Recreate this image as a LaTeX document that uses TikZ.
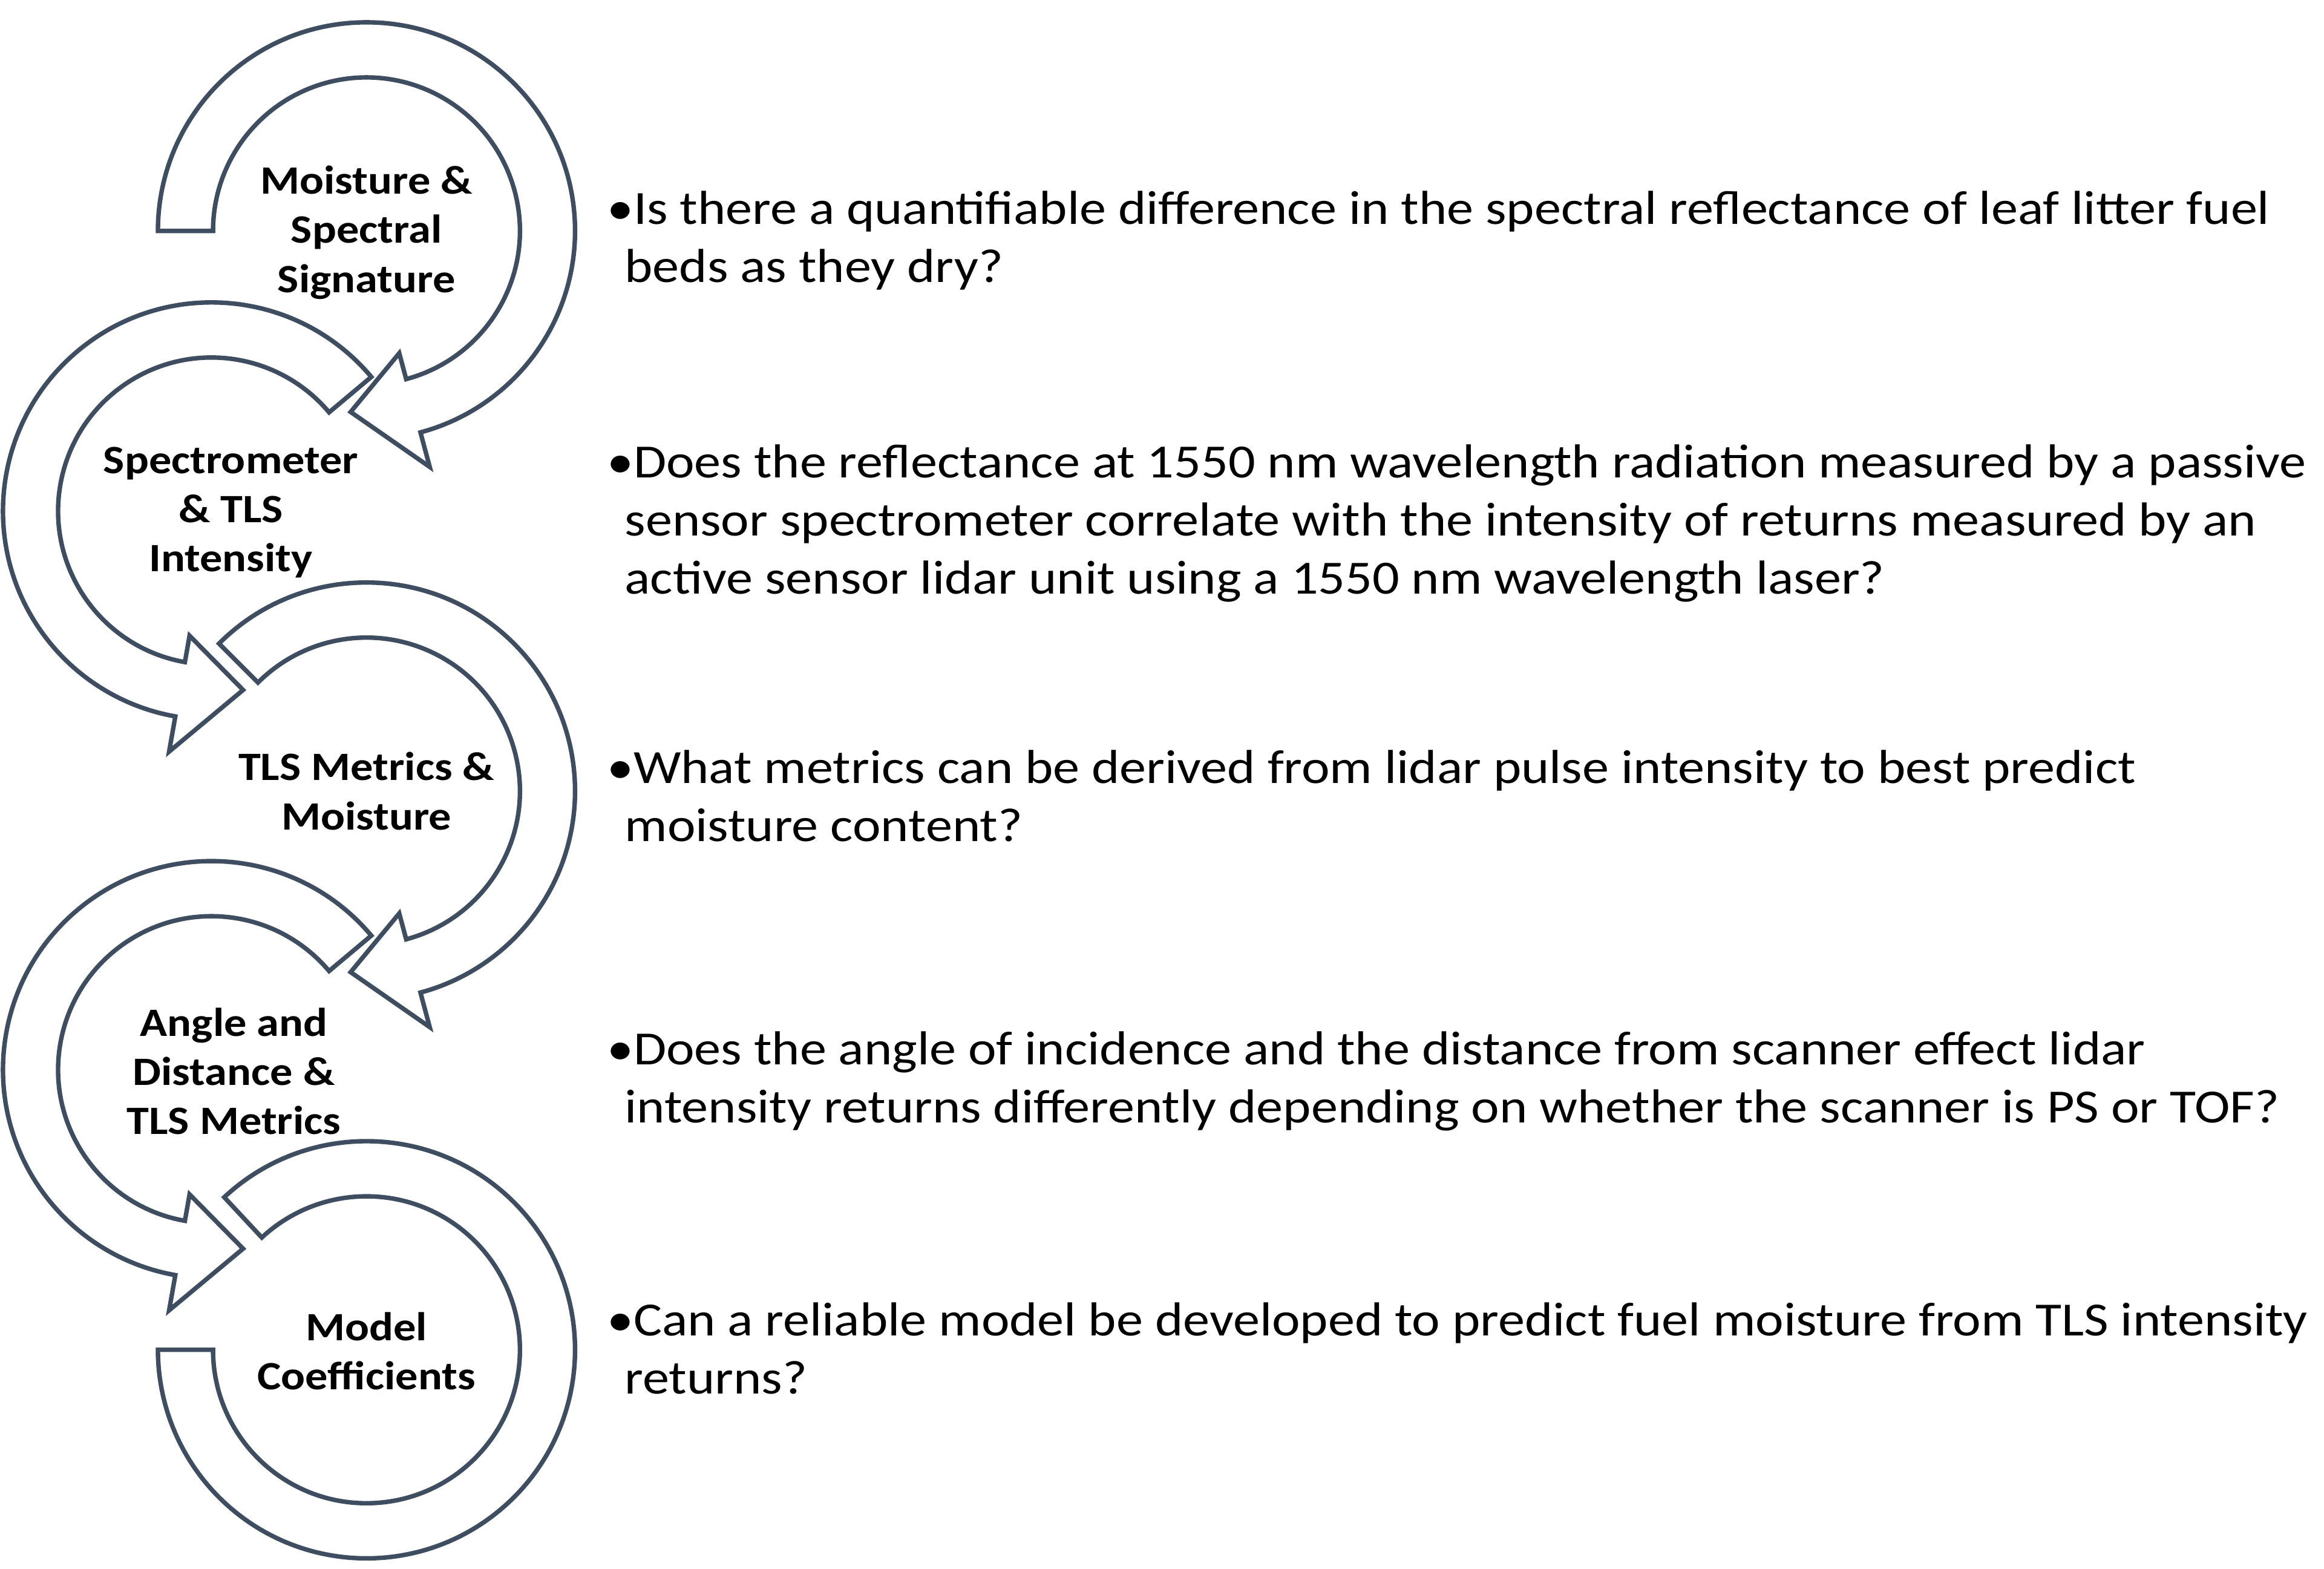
\documentclass[tikz,border=0pt]{standalone}
\usepackage{fontspec}
\setmainfont{Carlito}[FakeStretch=1.12]
\definecolor{ring}{HTML}{3F4D60}
\newcommand\ringarrow[6]{% name, cx, cy, a0, a1, tip
  \begin{scope}[shift={(#2,#3)}]
    \draw[ringst] (#4:140) arc[start angle=#4,end angle=#5,radius=140] -- (#5:164) -- (#6:122) -- (#5:85) -- (#5:103)
      arc[start angle=#5,end angle=#4,radius=103] -- cycle;
    \coordinate (#1) at (0,0);
  \end{scope}}
\begin{document}
\begin{tikzpicture}[x=0.5pt,y=0.5pt,
  ringst/.style={draw=ring,line width=1.5pt,fill=white,line join=miter},
  lab/.style={font=\fontsize{13.5}{16.5}\selectfont\bfseries,align=center,inner sep=0pt},
  q/.style={font=\fontsize{16}{19.5}\selectfont,align=left,anchor=north west,inner sep=0pt}]
\useasboundingbox (0,0) rectangle (1560,1053);
\ringarrow{c1}{246}{898}{180}{-75}{-95}
\ringarrow{c2}{142}{710}{40}{260}{280}
\ringarrow{c3}{246}{522}{135}{-75}{-95}
\ringarrow{c4}{142}{335}{40}{260}{280}
\begin{scope}[shift={(246,147)}]
  \draw[ringst] (133:140) arc[start angle=133,end angle=-180,radius=140] -- (-180:103)
    arc[start angle=-180,end angle=133,radius=103] -- cycle;
  \coordinate (c5) at (0,0);
\end{scope}
\node[lab] (l1) at (246,897) {Moisture \&\\Spectral\\Signature};
\node[lab] (l2) at (155,709) {Spectrometer\\\& TLS\\Intensity};
\node[lab] (l3) at (246,522) {TLS Metrics \&\\Moisture};
\node[lab] (l4) at (157,334) {Angle and\\Distance \&\\TLS Metrics};
\node[lab] (l5) at (246,146) {Model\\Coefficients};
\node[q] (q1) at (407,925) {•Is there a quantifiable difference in the spectral reflectance of leaf litter fuel\\\hspace*{6pt}beds as they dry?};
\node[q] (q2) at (407,755) {•Does the reflectance at 1550 nm wavelength radiation measured by a passive\\\hspace*{6pt}sensor spectrometer correlate with the intensity of returns measured by an\\\hspace*{6pt}active sensor lidar unit using a 1550 nm wavelength laser?};
\node[q] (q3) at (407,550) {•What metrics can be derived from lidar pulse intensity to best predict\\\hspace*{6pt}moisture content?};
\node[q] (q4) at (407,361) {•Does the angle of incidence and the distance from scanner effect lidar\\\hspace*{6pt}intensity returns differently depending on whether the scanner is PS or TOF?};
\node[q] (q5) at (407,179) {•Can a reliable model be developed to predict fuel moisture from TLS intensity\\\hspace*{6pt}returns?};
\end{tikzpicture}
\end{document}
